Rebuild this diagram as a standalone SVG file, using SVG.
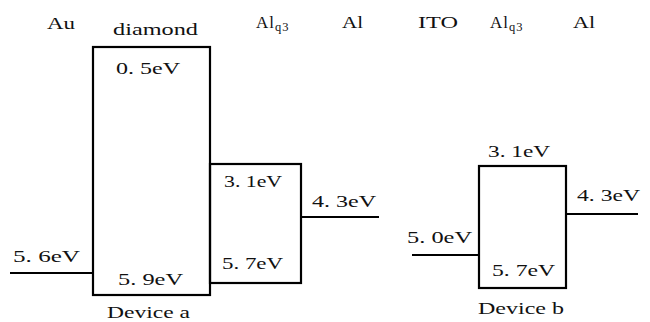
<svg xmlns="http://www.w3.org/2000/svg" width="650" height="322" viewBox="0 0 650 322">
<style>
.b{fill:none;stroke:#000;stroke-width:2.2}
.l{stroke:#000;stroke-width:2.2;fill:none}
text{font-family:"Liberation Serif","DejaVu Serif",serif;font-size:17px;fill:#111}
.s{font-size:12.5px}
</style>
<rect width="650" height="322" fill="#fff"/>
<g id="labels">
<text x="47" y="29" textLength="28" lengthAdjust="spacingAndGlyphs">Au</text>
<text x="113" y="35" textLength="85" lengthAdjust="spacingAndGlyphs">diamond</text>
<text x="256" y="28" letter-spacing="1">Al<tspan class="s" dy="3">q3</tspan></text>
<text x="342" y="28" textLength="21" lengthAdjust="spacingAndGlyphs">Al</text>
<text x="418" y="28" textLength="40" lengthAdjust="spacingAndGlyphs">ITO</text>
<text x="490" y="28" letter-spacing="1">Al<tspan class="s" dy="3">q3</tspan></text>
<text x="573" y="28" textLength="22" lengthAdjust="spacingAndGlyphs">Al</text>
</g>
<g id="diamond-a">
<rect class="b" x="93" y="47" width="117" height="248"/>
<text x="116" y="74" textLength="64" lengthAdjust="spacingAndGlyphs">0. 5eV</text>
<text x="118" y="285" textLength="65" lengthAdjust="spacingAndGlyphs">5. 9eV</text>
</g>
<g id="alq3-a">
<rect class="b" x="210" y="164" width="91" height="119"/>
<text x="224" y="187" textLength="58" lengthAdjust="spacingAndGlyphs">3. 1eV</text>
<text x="222" y="269" textLength="61" lengthAdjust="spacingAndGlyphs">5. 7eV</text>
</g>
<g id="au-a">
<text x="13" y="262" textLength="67" lengthAdjust="spacingAndGlyphs">5. 6eV</text>
</g>
<g id="al-a">
<text x="312" y="207" textLength="64" lengthAdjust="spacingAndGlyphs">4. 3eV</text>
</g>
<g id="caption-a">
<text x="107" y="318" textLength="83" lengthAdjust="spacingAndGlyphs">Device a</text>
</g>
<g id="alq3-b">
<rect class="b" x="479" y="166" width="87" height="122"/>
<text x="488" y="157" textLength="62" lengthAdjust="spacingAndGlyphs">3. 1eV</text>
<text x="492" y="276" textLength="63" lengthAdjust="spacingAndGlyphs">5. 7eV</text>
</g>
<g id="ito-b">
<text x="407" y="243" textLength="65" lengthAdjust="spacingAndGlyphs">5. 0eV</text>
</g>
<g id="al-b">
<text x="577" y="201" textLength="63" lengthAdjust="spacingAndGlyphs">4. 3eV</text>
</g>
<g id="caption-b">
<text x="478" y="314" textLength="86" lengthAdjust="spacingAndGlyphs">Device b</text>
</g>
<g id="connectors">
<line class="l" x1="10" y1="273" x2="93" y2="273"/>
<line class="l" x1="301" y1="217" x2="379" y2="217"/>
<line class="l" x1="412" y1="255" x2="479" y2="255"/>
<line class="l" x1="566" y1="214" x2="638" y2="214"/>
</g>
</svg>
